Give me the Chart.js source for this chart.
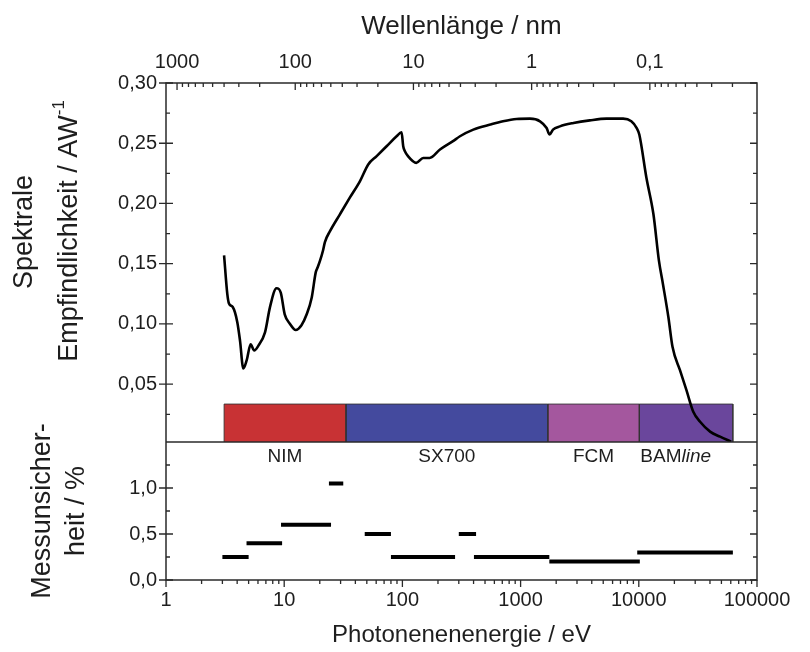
<!DOCTYPE html>
<html>
<head>
<meta charset="utf-8">
<script src="https://cdn.jsdelivr.net/npm/chart.js@4.4.1/dist/chart.umd.min.js"></script>
<style>
  html, body { margin: 0; padding: 0; background: #fff; }
  #wrap { width: 810px; height: 652px; }
</style>
</head>
<body>
<div id="wrap"><canvas id="chart" width="810" height="652"></canvas></div>
<script>
// photon energy (eV) and spectral responsivity (A/W)
const energy = [3.1, 3.3, 3.41, 3.67, 4.01, 4.23, 4.51, 4.82, 5.2, 5.58, 6.05, 6.88, 7.58, 8.6, 9.35,
  10.1, 11.2, 12.5, 14.0, 15.5, 17.1, 18.5, 19.2, 20.1, 21.3, 22.1, 24.4, 29.6, 36, 43.8, 51.4, 60.6,
  73.5, 89.3, 98.4, 101.6, 105, 111.5, 131, 150, 170, 208, 268, 307, 398, 555, 710, 925, 1200, 1460,
  1660, 1760, 1880, 2150, 2800, 3850, 5330, 7370, 8640, 9600, 10100, 11600, 13300, 14800, 16000,
  17800, 19300, 22300, 25300, 28900, 33000, 40100, 48700, 60500];
const response = [0.157, 0.125, 0.117, 0.114, 0.1015, 0.086, 0.063, 0.070, 0.083, 0.078, 0.082, 0.093,
  0.114, 0.1296, 0.126, 0.108, 0.100, 0.095, 0.099, 0.108, 0.122, 0.143, 0.147, 0.1525, 0.161, 0.168,
  0.177, 0.191, 0.205, 0.2186, 0.2324, 0.2393, 0.2475, 0.2558, 0.2591, 0.2475, 0.2434, 0.2393, 0.2337,
  0.2378, 0.2378, 0.2448, 0.2517, 0.2558, 0.2613, 0.2655, 0.2682, 0.2701, 0.2704, 0.2682, 0.2626,
  0.2572, 0.2613, 0.264, 0.2668, 0.269, 0.2704, 0.2704, 0.2682, 0.2626, 0.2572, 0.2213, 0.191, 0.1525,
  0.1332, 0.1056, 0.0808, 0.0616, 0.045, 0.0271, 0.0188, 0.0106, 0.0064, 0.0023];

// beamline ranges (eV), drawn as coloured blocks at the bottom of the upper panel
const beamlines = ['NIM', 'SX700', 'FCM', 'BAMline'];
const beamlineFrom = [3.1, 33.3, 1700, 10100];
const beamlineTo = [33.3, 1700, 10100, 62500];
const beamlineColors = ['#c83234', '#444a9e', '#a4579e', '#6a469c'];
const beamlineTop = 0.0335;

// measurement uncertainty (%) per energy range
const uncFrom = [3.0, 4.8, 9.4, 23.9, 48, 80, 300, 403, 1750, 9700];
const uncTo = [5.0, 9.6, 24.9, 31.6, 80, 279, 420, 1750, 10200, 62500];
const uncValue = [0.25, 0.40, 0.60, 1.05, 0.50, 0.25, 0.50, 0.25, 0.20, 0.30];

// axis ticks
const energyTicks = [1, 10, 100, 1000, 10000, 100000];
const wavelengthTicks = [1000, 100, 10, 1, 0.1];
const respTicks = [0.05, 0.10, 0.15, 0.20, 0.25, 0.30];
const uncTicks = [0, 0.5, 1.0];

const HC = 1239.84; // eV nm
const Y_MIN = 0.002;
const FONT = '"Liberation Sans", Arial, Helvetica, sans-serif';
const INK = '#1e1e1e';

Chart.defaults.font.family = FONT;
Chart.defaults.color = INK;

const curveData = energy.map((e, i) => ({ x: e, y: response[i] }));

const uncData = [];
uncValue.forEach((v, i) => {
    uncData.push({ x: uncFrom[i], y: v }, { x: uncTo[i], y: v }, { x: uncTo[i], y: null });
});

const beamlineSets = beamlines.map((name, i) => ({
    label: name,
    data: [
        { x: beamlineFrom[i], y: Y_MIN },
        { x: beamlineFrom[i], y: beamlineTop },
        { x: beamlineTo[i], y: beamlineTop },
        { x: beamlineTo[i], y: Y_MIN },
    ],
    yAxisID: 'y',
    backgroundColor: beamlineColors[i],
    borderColor: 'rgba(50,50,50,0.85)',
    borderWidth: 1,
    fill: 'origin',
    pointRadius: 0,
    tension: 0,
    order: 2,
}));

const setTicks = (values) => (scale) => {
    scale.ticks = values.map((v) => ({ value: v }));
};
const comma = (digits) => (v) => v.toFixed(digits).replace('.', ',');

// draws one rotated title made of runs (main text + superscript)
function drawVertical(ctx, x, y, runs) {
    ctx.save();
    ctx.translate(x, y);
    ctx.rotate(-Math.PI / 2);
    ctx.textAlign = 'left';
    ctx.textBaseline = 'middle';
    ctx.fillStyle = INK;
    let total = 0;
    runs.forEach((r) => {
        ctx.font = `${r.size}px ${FONT}`;
        r.w = ctx.measureText(r.text).width;
        total += r.w;
    });
    let cx = -total / 2;
    runs.forEach((r) => {
        ctx.font = `${r.size}px ${FONT}`;
        ctx.fillText(r.text, cx, -(r.rise || 0));
        cx += r.w;
    });
    ctx.restore();
}

const decorations = {
    id: 'decorations',
    afterDraw(chart) {
        const { ctx, chartArea: a, scales } = chart;
        const { x, x2, y, y2 } = scales;
        const split = y.bottom;
        ctx.save();

        // frame and panel separator
        ctx.strokeStyle = '#2a2a2a';
        ctx.lineWidth = 1.5;
        ctx.strokeRect(a.left, a.top, a.right - a.left, a.bottom - a.top);
        ctx.beginPath();
        ctx.moveTo(a.left, split);
        ctx.lineTo(a.right, split);
        ctx.stroke();

        // tick marks
        ctx.lineWidth = 1.3;
        ctx.beginPath();
        for (let k = 0; k <= 5; k++) {
            for (let m = 1; m <= 9; m++) {
                const v = m * Math.pow(10, k);
                if (v > 100000) break;
                const px = x.getPixelForValue(v);
                ctx.moveTo(px, a.bottom);
                ctx.lineTo(px, a.bottom + (m === 1 ? 7 : 4));
            }
        }
        for (let k = -2; k <= 3; k++) {
            for (let m = 1; m <= 9; m++) {
                const v = m * Math.pow(10, k);
                if (v < HC / 100000 || v > HC) continue;
                const px = x2.getPixelForValue(v);
                ctx.moveTo(px, a.top);
                ctx.lineTo(px, a.top + (m === 1 ? 7 : 4));
            }
        }
        for (let i = 1; i <= 12; i++) {
            const py = y.getPixelForValue(i * 0.025);
            const major = i % 2 === 0;
            if (major) {
                ctx.moveTo(a.left - 7, py);
                ctx.lineTo(a.left + 7, py);
            } else {
                ctx.moveTo(a.left, py);
                ctx.lineTo(a.left + 4, py);
            }
            ctx.moveTo(a.right, py);
            ctx.lineTo(a.right - (major ? 7 : 4), py);
        }
        for (let i = 0; i <= 5; i++) {
            const py = y2.getPixelForValue(i * 0.25);
            const major = i % 2 === 0;
            if (major) {
                ctx.moveTo(a.left - 7, py);
                ctx.lineTo(a.left + 7, py);
            } else {
                ctx.moveTo(a.left, py);
                ctx.lineTo(a.left + 4, py);
            }
            ctx.moveTo(a.right, py);
            ctx.lineTo(a.right - (major ? 7 : 4), py);
        }
        ctx.stroke();

        // beamline names under the blocks
        ctx.fillStyle = INK;
        ctx.textBaseline = 'middle';
        const ly = split + 15;
        beamlines.forEach((name, i) => {
            const x0 = x.getPixelForValue(beamlineFrom[i]);
            const x1 = x.getPixelForValue(beamlineTo[i]);
            if (name.endsWith('line')) {
                const head = name.slice(0, -4);
                ctx.textAlign = 'left';
                ctx.font = `19px ${FONT}`;
                ctx.fillText(head, x0 + 1, ly);
                const w = ctx.measureText(head).width;
                ctx.font = `italic 19px ${FONT}`;
                ctx.fillText('line', x0 + 1 + w, ly);
            } else {
                ctx.textAlign = 'center';
                ctx.font = `19px ${FONT}`;
                ctx.fillText(name, (x0 + x1) / 2, ly);
            }
        });

        // y axis titles
        drawVertical(ctx, 25, 232, [{ text: 'Spektrale', size: 27 }]);
        drawVertical(ctx, 70, 231, [
            { text: 'Empfindlichkeit / AW', size: 27 },
            { text: '-1', size: 17, rise: 11 },
        ]);
        drawVertical(ctx, 43, 511, [{ text: 'Messunsicher-', size: 27 }]);
        drawVertical(ctx, 77, 511, [{ text: 'heit / %', size: 27 }]);

        ctx.restore();
    },
};

new Chart(document.getElementById('chart'), {
    type: 'line',
    data: {
        datasets: [
            {
                label: 'Spektrale Empfindlichkeit',
                data: curveData,
                yAxisID: 'y',
                borderColor: '#000',
                borderWidth: 2.6,
                pointRadius: 0,
                cubicInterpolationMode: 'monotone',
                fill: false,
                order: 0,
            },
            ...beamlineSets,
            {
                label: 'Messunsicherheit',
                data: uncData,
                yAxisID: 'y2',
                borderColor: '#000',
                borderWidth: 4,
                borderCapStyle: 'butt',
                pointRadius: 0,
                spanGaps: false,
                fill: false,
                order: 1,
            },
        ],
    },
    options: {
        responsive: false,
        animation: false,
        devicePixelRatio: 1,
        layout: { padding: { left: 0, right: 53, top: 0, bottom: 0 } },
        plugins: { legend: { display: false }, tooltip: { enabled: false } },
        scales: {
            x: {
                type: 'logarithmic',
                position: 'bottom',
                min: 1,
                max: 100000,
                afterBuildTicks: setTicks(energyTicks),
                afterFit: (s) => { s.height = 72; },
                grid: { display: false, drawTicks: false },
                border: { display: false },
                ticks: {
                    autoSkip: false,
                    maxRotation: 0,
                    padding: 8,
                    font: { size: 20 },
                    callback: (v) => String(v),
                },
                title: {
                    display: true,
                    text: 'Photonenenenergie / eV',
                    font: { size: 24 },
                    padding: { top: 0, bottom: 2 },
                },
            },
            x2: {
                type: 'logarithmic',
                position: 'top',
                reverse: true,
                min: HC / 100000,
                max: HC,
                afterBuildTicks: setTicks(wavelengthTicks),
                afterFit: (s) => { s.height = 83; },
                grid: { display: false, drawTicks: false },
                border: { display: false },
                ticks: {
                    autoSkip: false,
                    maxRotation: 0,
                    padding: 9,
                    font: { size: 20 },
                    callback: (v) => String(v).replace('.', ','),
                },
                title: {
                    display: true,
                    text: 'Wellenlänge / nm',
                    font: { size: 26 },
                    padding: { top: 11, bottom: 0 },
                },
            },
            y: {
                type: 'linear',
                position: 'left',
                stack: 'panels',
                stackWeight: 359,
                weight: 1,
                min: Y_MIN,
                max: 0.30,
                afterBuildTicks: setTicks(respTicks),
                afterFit: (s) => { s.width = 166; },
                grid: { display: false, drawTicks: false },
                border: { display: false },
                ticks: { padding: 9, font: { size: 20 }, callback: comma(2) },
            },
            y2: {
                type: 'linear',
                position: 'left',
                stack: 'panels',
                stackWeight: 138,
                weight: 0,
                min: 0,
                max: 1.5,
                afterBuildTicks: setTicks(uncTicks),
                afterFit: (s) => { s.width = 166; },
                grid: { display: false, drawTicks: false },
                border: { display: false },
                ticks: { padding: 9, font: { size: 20 }, callback: comma(1) },
            },
        },
    },
    plugins: [decorations],
});
</script>
</body>
</html>
